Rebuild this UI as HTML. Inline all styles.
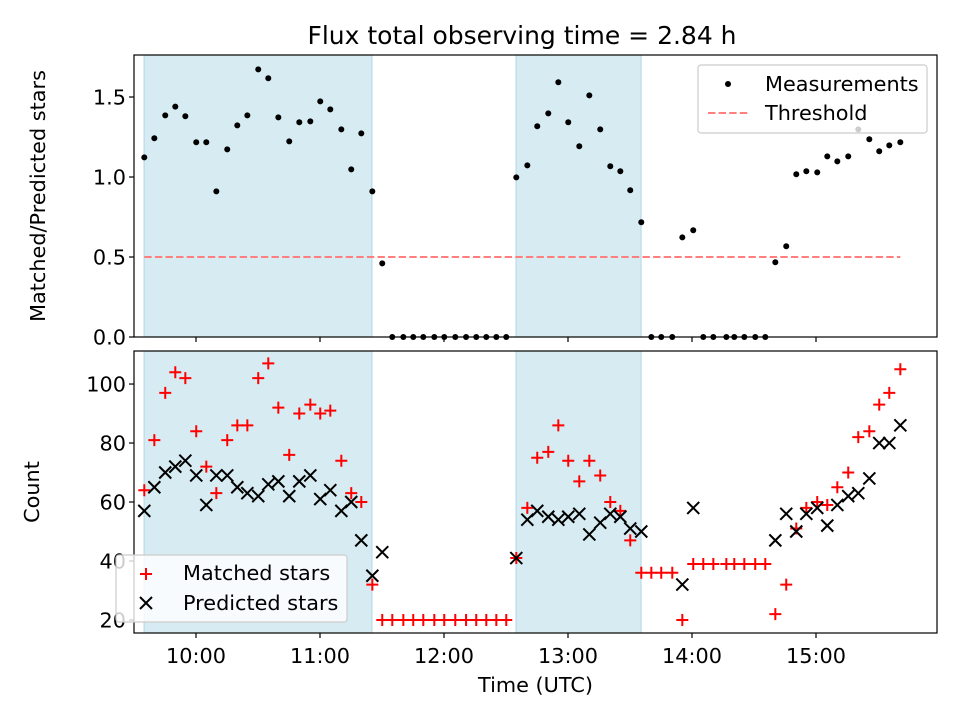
<!DOCTYPE html>
<html><head><meta charset="utf-8"><style>
body{margin:0;background:#fff}
svg{display:block;font-family:"DejaVu Sans","Liberation Sans",sans-serif}
</style></head><body>
<svg id="c" width="960" height="720" viewBox="0 0 960 720"></svg>
<script>
const times=[9.583,9.664,9.752,9.833,9.914,10.002,10.083,10.164,10.252,10.333,10.414,10.502,10.583,10.664,10.752,10.833,10.922,11.002,11.083,11.172,11.252,11.333,11.422,11.502,
11.583,11.672,11.752,11.833,11.922,12.002,12.091,12.178,12.26,12.341,12.422,12.502,
12.583,12.672,12.752,12.841,12.922,13.002,13.091,13.172,13.26,13.341,13.422,13.502,13.591,13.672,13.752,13.841,13.922,14.010,
14.091,14.172,14.277,14.341,14.422,14.51,14.591,14.672,14.76,14.841,14.922,15.010,15.091,15.172,15.26,15.341,15.43,15.51,15.591,15.68];
const ratio=[1.123,1.242,1.385,1.44,1.38,1.217,1.217,0.91,1.173,1.323,1.385,1.673,1.617,1.373,1.223,1.342,1.348,1.473,1.423,1.298,1.048,1.273,0.91,0.46,
0,0,0,0,0,0,0,0,0,0,0,0,
0.998,1.073,1.317,1.398,1.592,1.342,1.192,1.51,1.298,1.067,1.036,0.917,0.717,0,0,0,0.623,0.667,
0,0,0,0,0,0,0,0.467,0.567,1.017,1.036,1.029,1.129,1.098,1.129,1.298,1.236,1.161,1.198,1.217];
const matched=[64,81,97,104,102,84,72,63,81,86,86,102,107,92,76,90,93,90,91,74,63,60,32,20,
20,20,20,20,20,20,20,20,20,20,20,20,
41,58,75,77,86,74,67,74,69,60,57,47,36,36,36,36,20,39,
39,39,39,39,39,39,39,22,32,51,58,60,59,65,70,82,84,93,97,105];
const predicted=[57,65,70,72,74,69,59,69,69,65,63,62,66,67,62,67,69,61,64,57,60,47,35,43,
null,null,null,null,null,null,null,null,null,null,null,null,
41,54,57,55,54,55,56,49,53,56,55,51,50,null,null,null,32,58,
null,null,null,null,null,null,null,47,56,50,56,58,52,59,62,63,68,80,80,86];
const shaded=[[9.581,11.419],[12.581,13.589]];
const threshold=0.5;
const xTicks=[10,11,12,13,14,15];
const xTickLabels=["10:00","11:00","12:00","13:00","14:00","15:00"];
const topTicks=[0,0.5,1.0,1.5];
const topTickLabels=["0.0","0.5","1.0","1.5"];
const botTicks=[20,40,60,80,100];
const botTickLabels=["20","40","60","80","100"];

const NS="http://www.w3.org/2000/svg";
const svg=document.getElementById('c');
function el(tag,attrs,parent,text){const e=document.createElementNS(NS,tag);for(const k in attrs)e.setAttribute(k,attrs[k]);if(text!==undefined)e.textContent=text;(parent||svg).appendChild(e);return e;}
const L=134,R=937,FS=20.8;
const x=t=>196+(t-10)*124;
const T={top:55,bot:337,min:0,max:1.7625};
const B={top:351,bot:633,min:15.59,max:111.2};
const yT=v=>T.bot-(v-T.min)/(T.max-T.min)*(T.bot-T.top);
const yB=v=>B.bot-(v-B.min)/(B.max-B.min)*(B.bot-B.top);

let t=el('text',{x:522,y:44,'font-size':25,'text-anchor':'middle',fill:'#000'},svg,'Flux total observing time = 2.84 h');



function panel(P,name){
  const g=el('g',{});
  
  
  shaded.forEach((s,i)=>{const r=el('rect',{x:x(s[0]),y:P.top,width:x(s[1])-x(s[0]),height:P.bot-P.top,fill:'#add8e6','fill-opacity':0.5,stroke:'#add8e6','stroke-width':1},g);
    
    });
  return g;
}
function frame(P,g,ticks,labels,yf,showX){
  const r=el('rect',{x:L,y:P.top,width:R-L,height:P.bot-P.top,fill:'none',stroke:'#000','stroke-width':1.2},g);
  
  
  ticks.forEach((v,i)=>{const yy=yf(v);el('line',{x1:L-5,x2:L,y1:yy,y2:yy,stroke:'#000','stroke-width':1.2},g);
    const tx=el('text',{x:L-8,y:yy+7.5,'font-size':FS,'text-anchor':'end'},g,labels[i]);
    
    });
  xTicks.forEach((v,i)=>{el('line',{x1:x(v),x2:x(v),y1:P.bot,y2:P.bot+5,stroke:'#000','stroke-width':1.2},g);
    if(showX){const tx=el('text',{x:x(v),y:P.bot+30,'font-size':FS,'text-anchor':'middle'},g,xTickLabels[i]);
      
      }});
}
// top
const gT=panel(T,'ratio-panel');
const th=el('line',{x1:x(times[0]),x2:x(times[times.length-1]),y1:yT(threshold),y2:yT(threshold),stroke:'#ff7f7f','stroke-width':2,'stroke-dasharray':'7.4,3.2'},gT);


times.forEach((tt,i)=>{const c=el('circle',{cx:x(tt),cy:yT(ratio[i]),r:3,fill:'#000'},gT);
  
  });
frame(T,gT,topTicks,topTickLabels,yT,false);
t=el('text',{x:0,y:0,'font-size':FS,'text-anchor':'middle',transform:`translate(45,${(T.top+T.bot)/2}) rotate(-90)`},gT,'Matched/Predicted stars');


const lg=el('g',{},gT);


el('rect',{x:698,y:65,width:229,height:68,rx:3,fill:'#fff','fill-opacity':0.8,stroke:'#ccc','stroke-width':1.2},lg);
el('circle',{cx:728,cy:84,r:3,fill:'#000'},lg);
el('text',{x:765,y:91,'font-size':FS},lg,'Measurements');
el('line',{x1:708,x2:748,y1:113,y2:113,stroke:'#ff7f7f','stroke-width':2,'stroke-dasharray':'7.4,3.2'},lg);
el('text',{x:765,y:120,'font-size':FS},lg,'Threshold');

// bottom
const gB=panel(B,'count-panel');
function plus(cx,cy,g){return el('path',{d:`M${cx-6},${cy}H${cx+6}M${cx},${cy-6}V${cy+6}`,stroke:'#ff0000','stroke-width':2,fill:'none'},g);}
function cross(cx,cy,g){return el('path',{d:`M${cx-6},${cy-6}L${cx+6},${cy+6}M${cx-6},${cy+6}L${cx+6},${cy-6}`,stroke:'#000','stroke-width':2,fill:'none'},g);}
times.forEach((tt,i)=>{const p=plus(x(tt),yB(matched[i]),gB);
  
  });
times.forEach((tt,i)=>{if(predicted[i]===null)return;const p=cross(x(tt),yB(predicted[i]),gB);
  
  });
frame(B,gB,botTicks,botTickLabels,yB,true);
t=el('text',{x:0,y:0,'font-size':FS,'text-anchor':'middle',transform:`translate(39,${(B.top+B.bot)/2}) rotate(-90)`},gB,'Count');


t=el('text',{x:(L+R)/2,y:692,'font-size':FS,'text-anchor':'middle'},gB,'Time (UTC)');


const lb=el('g',{},gB);


el('rect',{x:116,y:555,width:231,height:67,rx:3,fill:'#fff','fill-opacity':0.8,stroke:'#ccc','stroke-width':1.2},lb);
plus(146,574,lb);
el('text',{x:183,y:580,'font-size':FS},lb,'Matched stars');
cross(146,603,lb);
el('text',{x:183,y:610,'font-size':FS},lb,'Predicted stars');
</script>
</body></html>
